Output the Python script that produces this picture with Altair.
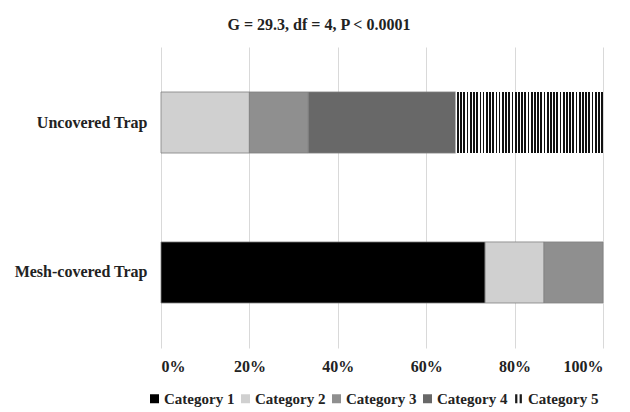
import altair as alt
import pandas as pd

categories = ["Category 1", "Category 2", "Category 3", "Category 4", "Category 5"]
traps = ["Uncovered Trap", "Mesh-covered Trap"]
uncovered_pct = [0.0, 20.0, 13.33, 33.33, 33.34]
mesh_pct = [73.33, 13.33, 13.34, 0.0, 0.0]
fill_colors = ["#000000", "#d0d0d0", "#8f8f8f", "#686868", "#1a1a1a"]
x_ticks = [0, 20, 40, 60, 80, 100]
title_text = "G = 29.3, df = 4, P < 0.0001"

rows = []
for trap, vals in zip(traps, [uncovered_pct, mesh_pct]):
    start = 0.0
    for i, (cat, v) in enumerate(zip(categories, vals)):
        rows.append(dict(trap=trap, category=cat, order=i, start=start, end=start + v, value=v))
        start += v
df = pd.DataFrame(rows)
df = df[df.value > 0]

FONT = "Liberation Serif"
TXT = "#222222"

n_stripes = 46
stops = []
for i in range(n_stripes):
    a = i / n_stripes
    b = (i + 0.45) / n_stripes
    c = (i + 1) / n_stripes
    stops += [
        alt.GradientStop(offset=a, color="#ffffff"),
        alt.GradientStop(offset=b, color="#ffffff"),
        alt.GradientStop(offset=b, color="#111111"),
        alt.GradientStop(offset=c, color="#111111"),
    ]
stripe_fill = alt.LinearGradient(gradient="linear", stops=stops, x1=0, x2=1, y1=0, y2=0)

y_enc = alt.Y(
    "trap:N", sort=traps,
    scale=alt.Scale(paddingInner=0.593, paddingOuter=0.3),
    axis=alt.Axis(title=None, labelFont=FONT, labelFontWeight="bold", labelFontSize=16,
                  labelColor=TXT, ticks=False, domain=False, labelPadding=14),
)
x_enc = alt.X(
    "start:Q",
    scale=alt.Scale(domain=[0, 100], nice=False),
    axis=alt.Axis(values=x_ticks, labelExpr="datum.value + '%'", title=None, grid=True,
                  gridColor="#d9d9d9", gridWidth=1, domain=False, ticks=False,
                  labelFont=FONT, labelFontWeight="bold", labelFontSize=16, labelColor=TXT,
                  labelPadding=10),
)

sym_expr = ("datum.value === 'Category 5' ? "
            "'M-0.75,-1H-0.25V1H-0.75Z M0.25,-1H0.75V1H0.25Z' : 'square'")

color_enc = alt.Color(
    "category:N",
    scale=alt.Scale(domain=categories, range=fill_colors),
    legend=alt.Legend(
        orient="none", legendX=-14, legendY=344, direction="horizontal", title=None,
        labelFont=FONT, labelFontWeight="bold", labelFontSize=15, labelColor=TXT,
        symbolSize=81, symbolType=alt.ExprRef(expr=sym_expr), symbolStrokeWidth=0,
        columnPadding=3, labelOffset=2, padding=0,
    ),
)

bars = alt.Chart().mark_bar(stroke="#808080", strokeWidth=0.8).encode(
    x=x_enc, x2="end:Q", y=y_enc, color=color_enc,
).transform_filter("datum.category != 'Category 5'")

stripes = alt.Chart().mark_bar(color=stripe_fill).encode(
    x=x_enc, x2="end:Q", y=y_enc,
).transform_filter("datum.category == 'Category 5'")

chart = alt.layer(bars, stripes, data=df).properties(
    width=442, height=301,
    autosize=alt.AutoSizeParams(type="none"),
    padding={"left": 153, "top": 39, "right": 19, "bottom": 64},
    title=alt.Title(title_text, font=FONT, fontSize=16, fontWeight="bold", color=TXT,
                    anchor="middle", dx=-63, offset=14),
).configure_view(stroke=None)

chart.save("out.html", embed_options={"renderer": "svg", "actions": False})
